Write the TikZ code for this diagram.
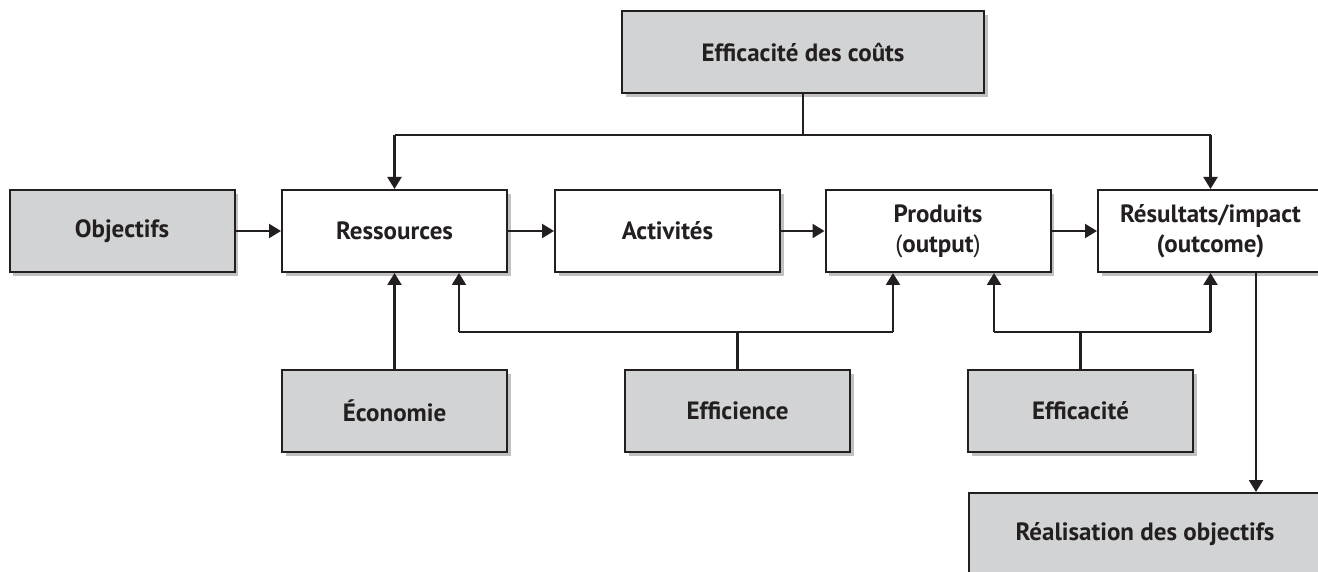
\documentclass[tikz,border=0pt]{standalone}
\usepackage{fontspec}
\setmainfont{PT Sans}
\usetikzlibrary{positioning}
\usetikzlibrary{arrows.meta}
\usetikzlibrary{shadows}
\definecolor{boxgray}{RGB}{209,211,212}
\definecolor{ink}{RGB}{35,31,32}
\tikzset{
  box/.style={draw=ink, line width=1pt, fill=white, minimum width=112.5pt, minimum height=41pt,
    align=center, font=\bfseries\fontsize{12.5}{15}\selectfont, text=ink,
    drop shadow={shadow xshift=1.8pt, shadow yshift=-2pt, opacity=0.35, fill=black!70}},
  graybox/.style={box, fill=boxgray},
  conn/.style={draw=ink, line width=1.1pt},
  arr/.style={conn, -{Triangle[length=6pt, width=7pt]}}
}
\begin{document}
\begin{tikzpicture}[x=0.5pt, y=-0.5pt]
                \useasboundingbox (0,0) rectangle (1318,572);
                % Main chain of boxes
                \node[graybox] (obj) at (122,231) {Objectifs};
                \node[box] (res) at (394.5,231) {Ressources};
                \node[box] (act) at (667.5,231) {Activités};
                \node[box] (prod) at (938,231) {Produits\\{\mdseries(}output{\mdseries)}};
                \node[box] (resu) at (1210.5,231) {Résultats/impact\\(outcome)};
                
                % Criteria boxes
                \node[graybox, minimum width=181pt] (cost) at (803,52.5) {Efficacité des coûts};
                \node[graybox] (eco) at (394.5,411) {Économie};
                \node[graybox] (effi) at (737.5,411) {Efficience};
                \node[graybox] (effa) at (1080.5,411) {Efficacité};
                \node[graybox, minimum width=176pt] (real) at (1145,534) {Réalisation des objectifs};
                
                % Define the coordinates of the branch points
                \coordinate (costL) at (394.5,135);
                \coordinate (costR) at (1210.5,135);
                \coordinate (effiL) at (459,332);
                \coordinate (effiR) at (893,332);
                \coordinate (effaL) at (994,332);
                \coordinate (effaR) at (1210.5,332);
                \coordinate (resuD) at ([xshift=22.75pt]resu.south);
                
                \foreach \from/\to in {obj/res, res/act, act/prod, prod/resu}
                    \draw[arr] (\from.east) -- (\to.west);
                
                \draw[conn] (cost.south) -- (cost.south |- costL);
                \draw[conn] (costL) -- (costR);
                \draw[arr] (costL) -- (res.north);
                \draw[arr] (costR) -- (resu.north);
                
                \draw[arr] (eco.north) -- (res.south);
                
                \draw[conn] (effi.north) -- (effi.north |- effiL);
                \draw[conn] (effiL) -- (effiR);
                \draw[arr] (effiL) -- (effiL |- res.south);
                \draw[arr] (effiR) -- (effiR |- prod.south);
                
                \draw[conn] (effa.north) -- (effa.north |- effaL);
                \draw[conn] (effaL) -- (effaR);
                \draw[arr] (effaL) -- (effaL |- prod.south);
                \draw[arr] (effaR) -- (resu.south);
                
                \draw[arr] (resuD) -- (resuD |- real.north);
            \end{tikzpicture}
\end{document}
